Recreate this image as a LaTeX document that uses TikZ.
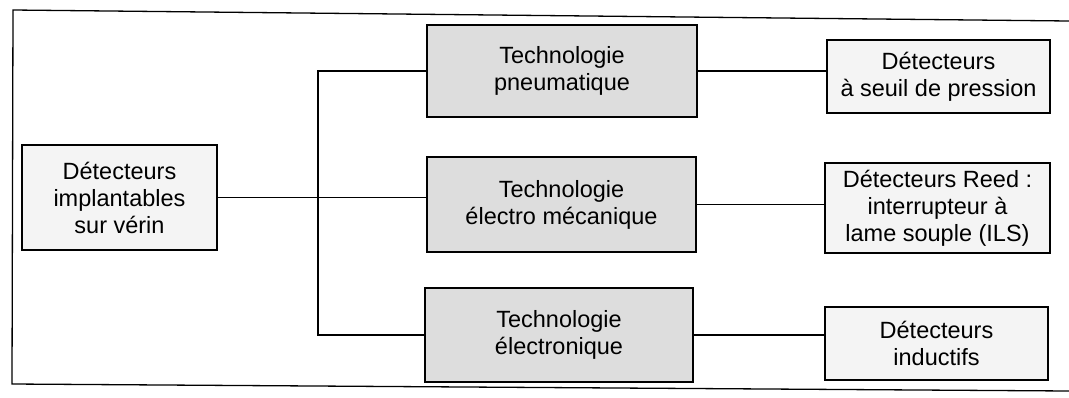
\documentclass[tikz,border=0pt]{standalone}
\usepackage{fontspec}
\setmainfont{Liberation Sans}
\begin{document}
\begin{tikzpicture}[x=1pt,y=-1pt,
  basebox/.style={draw=black, line width=2.2pt, align=center, inner sep=0pt,
    font=\fontsize{23.5}{27}\selectfont},
  lightbox/.style={basebox, fill=gray!9},
  darkbox/.style={basebox, fill=gray!27},
  link/.style={line width=1.2pt},
  frameline/.style={line width=1.3pt}]
\useasboundingbox (0,0) rectangle (1069,397);
% frame
\coordinate (f1) at (13,10);
\coordinate (f2) at (1069,21);
\coordinate (f3) at (12,384);
\coordinate (f4) at (1069,391);
\draw[frameline] (f2) -- (f1) -- (f3) -- (f4);
% nodes
\node[lightbox, minimum width=195pt, minimum height=105pt] (src) at (119.5,197.5) {Détecteurs\\implantables\\sur vérin};
\node[darkbox, minimum width=270pt, minimum height=92pt] (pn) at (562,71) {Technologie\\pneumatique};
\node[darkbox, minimum width=269pt, minimum height=95pt] (em) at (561.5,204.5) {Technologie\\électro mécanique};
\node[darkbox, minimum width=268pt, minimum height=94pt] (el) at (559,335) {Technologie\\électronique};
\node[lightbox, minimum width=223pt, minimum height=73pt] (pr) at (938.5,76.5) {Détecteurs\\à seuil de pression};
\node[lightbox, minimum width=225pt, minimum height=90pt] (rd) at (937.5,208) {Détecteurs Reed :\\interrupteur à\\lame souple (ILS)};
\node[lightbox, minimum width=223pt, minimum height=73pt] (in) at (936.5,343.5) {Détecteurs\\inductifs};
% connectors
\coordinate (j) at (318,197.5);
\draw[link] (src.east) -- (src.east -| em.west);
\draw[link] (pn.west) -| (j) |- (el.west);
\draw[link] (pn.east) -- (pn.east -| pr.west);
\draw[link] (em.east) -- (em.east -| rd.west);
\draw[link] (el.east) -- (el.east -| in.west);
\end{tikzpicture}
\end{document}
